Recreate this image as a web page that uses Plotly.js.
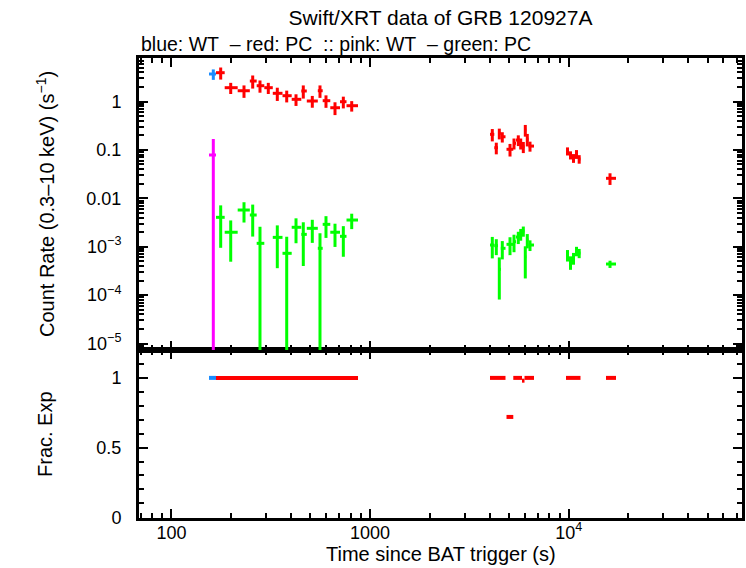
<!DOCTYPE html>
<html>
<head>
<meta charset="utf-8">
<script src="https://cdn.plot.ly/plotly-3.0.1.min.js"></script>
<style>html,body{margin:0;padding:0;background:#fff;}#chart{width:746px;height:568px;}</style>
</head>
<body>
<div id="chart"></div>
<script>
// ---------- DATA ----------
// WT mode (blue)
const wtStart = [154.5];
const wtStop  = [167.5];
const wtTime  = [162.4];
const wtRate  = [3.70];
const wtErr   = [0.9];
const wtFrac  = [1.0];

// WT mode (pink, second series)
const wt2Time = [162.4];
const wt2Start = [154.5];
const wt2Stop = [167.5];
const wt2Rate = [0.0785];
const wt2Err  = [0.09];

// PC mode (red)
const pcStart = [167.5, 185.3, 215.4, 248.0, 268.5, 293.3, 323.6, 362.2, 402.9, 450.4, 480.0, 545.4, 577.2, 630.3, 705.4, 760.7,
                 4016, 4221, 4406, 4551, 4862, 5260, 5428, 5654, 5820, 5991, 6117, 6275,
                 9692, 10035, 10390, 10757, 11137, 15410];
const pcStop  = [185.3, 215.4, 248.0, 268.5, 293.3, 323.6, 362.2, 402.9, 450.4, 480.0, 545.4, 577.2, 630.3, 705.4, 760.7, 869.3,
                 4221, 4406, 4551, 4806, 5260, 5428, 5654, 5820, 5991, 6117, 6275, 6689,
                 10035, 10390, 10757, 11137, 11465, 17307];
const pcTime  = [176.9, 198.7, 231.8, 256.4, 279.0, 307.2, 341.0, 380.3, 423.6, 460.9, 511.7, 559.4, 599.7, 665.7, 733.2, 808.0,
                 4124, 4320, 4473, 4631, 5064, 5304, 5575, 5732, 5908, 6046, 6188, 6385,
                 9863, 10212, 10573, 10946, 11294, 16144];
const pcRate  = [3.94, 1.93, 1.67, 2.65, 2.12, 1.93, 1.477, 1.318, 1.11, 1.65, 1.024, 1.67, 1.04, 0.744, 0.99, 0.819,
                 0.210, 0.111, 0.220, 0.187, 0.103, 0.137, 0.160, 0.137, 0.116, 0.258, 0.166, 0.120,
                 0.0947, 0.0785, 0.068, 0.0822, 0.0649, 0.0259];
const pcErr   = [1.1, 0.5, 0.48, 0.8, 0.6, 0.5, 0.45, 0.36, 0.3, 0.5, 0.28, 0.48, 0.3, 0.22, 0.27, 0.2,
                 0.06, 0.03, 0.055, 0.045, 0.03, 0.035, 0.04, 0.035, 0.03, 0.07, 0.048, 0.028,
                 0.018, 0.015, 0.014, 0.017, 0.013, 0.007];
const pcFrac  = [1, 1, 1, 1, 1, 1, 1, 1, 1, 1, 1, 1, 1, 1, 1, 1,
                 1, 1, 1, 1, 0.72, 1, 1, 1, 0.98, 1, 1, 1,
                 1, 1, 1, 1, 1, 1];

// PC mode (green, second series)
const pc2Start = [167.5, 185.3, 215.4, 248.0, 268.5, 323.6, 362.2, 402.9, 450.4, 480.0, 545.4, 577.2, 630.3, 705.4, 760.7,
                  4016, 4221, 4406, 4551, 4862, 5260, 5428, 5654, 5820, 5991, 6117, 6275,
                  9692, 10035, 10390, 10757, 11137, 15410];
const pc2Stop  = [185.3, 215.4, 248.0, 268.5, 293.3, 362.2, 402.9, 450.4, 480.0, 545.4, 577.2, 630.3, 705.4, 760.7, 869.3,
                  4221, 4406, 4551, 4806, 5260, 5428, 5654, 5820, 5991, 6117, 6275, 6689,
                  10035, 10390, 10757, 11137, 11465, 17307];
const pc2Time  = [176.9, 198.7, 231.8, 256.4, 279.0, 341.0, 380.3, 423.6, 460.9, 511.7, 559.4, 599.7, 665.7, 733.2, 808.0,
                  4124, 4320, 4473, 4631, 5064, 5304, 5575, 5732, 5908, 6046, 6188, 6385,
                  9863, 10212, 10573, 10946, 11294, 16144];
const pc2Rate  = [4.05e-3, 1.99e-3, 5.73e-3, 4.52e-3, 1.175e-3, 1.56e-3, 7.31e-4, 2.52e-3, 1.80e-3, 2.40e-3, 9.27e-4, 2.90e-3, 1.99e-3, 1.64e-3, 3.56e-3,
                  1.084e-3, 1.05e-3, 3.41e-4, 9.27e-4, 1.12e-3, 1.27e-3, 1.585e-3, 1.83e-3, 2.11e-3, 6.21e-4, 1.375e-3, 1.084e-3,
                  6.74e-4, 4.83e-4, 5.85e-4, 8.15e-4, 7.4e-4, 4.39e-4];
const pc2Err   = [3.1e-3, 1.5e-3, 2.57e-3, 2.9e-3, 1.41e-3, 1.2e-3, 8.8e-4, 1.34e-3, 1.4e-3, 1.2e-3, 9.6e-4, 1.38e-3, 1.0e-3, 1.02e-3, 1.25e-3,
                  5.1e-4, 3.8e-4, 2.6e-4, 3.8e-4, 4.5e-4, 5e-4, 4.5e-4, 5e-4, 5e-4, 4e-4, 4.5e-4, 2.7e-4,
                  1.8e-4, 1.5e-4, 1.6e-4, 1.8e-4, 1.6e-4, 7.5e-5];

// Axis ticks and texts
const xTickVals = [100, 1000, 10000];
const xTickText = ['100', '1000', '10<sup>4</sup>'];
const yTickVals = [1e-5, 1e-4, 1e-3, 0.01, 0.1, 1];
const yTickText = ['10<sup>−5</sup>', '10<sup>−4</sup>', '10<sup>−3</sup>', '0.01', '0.1', '1'];
const fTickVals = [0, 0.5, 1];
const fTickText = ['0', '0.5', '1'];
const titleText = 'Swift/XRT data of GRB 120927A';
const subtitleText = 'blue: WT\u00a0\u00a0– red: PC\u00a0\u00a0:: pink: WT\u00a0\u00a0– green: PC';
const xTitle = 'Time since BAT trigger (s)';
const yTitle = 'Count Rate (0.3–10 keV) (s<sup>−1</sup>)';
const fTitle = 'Frac. Exp';

// ---------- HELPERS ----------
const minus = (c, s) => c.map((v, i) => v - s[i]);
const plus  = (c, e) => e.map((v, i) => v - c[i]);
function logMinor(lo, hi) {
  const out = [];
  for (let k = lo; k <= hi; k++) for (let m = 2; m <= 9; m++) out.push(m * Math.pow(10, k));
  return out;
}
// bins [start, stop] at their value, contiguous equal-valued bins merged into one run
function stepSegs(s, e, v) {
  const x = [], y = [];
  for (let i = 0; i < s.length; i++) {
    const joined = i > 0 && s[i] === e[i - 1] && v[i] === v[i - 1];
    if (joined) {
      x[x.length - 1] = e[i];
    } else {
      if (i > 0) { x.push(null); y.push(null); }
      x.push(s[i], e[i]);
      y.push(v[i], v[i]);
    }
  }
  return {x, y};
}

const BLUE = '#1a8cff', RED = '#ff0000', PINK = '#ff00ff', GREEN = '#00ff00';
const FONT = 'Liberation Sans, Arial, Helvetica, sans-serif';

function errTrace(x, y, s, e, ey, color, name) {
  return {
    type: 'scatter', mode: 'markers', name: name, x: x, y: y,
    xaxis: 'x2', yaxis: 'y2',
    marker: {size: 4, color: color, opacity: 0},
    error_x: {type: 'data', symmetric: false, array: plus(x, e), arrayminus: minus(x, s),
              color: color, thickness: 3, width: 0},
    error_y: {type: 'data', array: ey, color: color, thickness: 3, width: 0},
    hoverinfo: 'x+y', showlegend: false
  };
}
function fracTrace(s, e, v, color, name) {
  const seg = stepSegs(s, e, v);
  return {
    type: 'scatter', mode: 'lines', name: name, x: seg.x, y: seg.y,
    xaxis: 'x', yaxis: 'y', connectgaps: false,
    line: {color: color, width: 4}, hoverinfo: 'x+y', showlegend: false
  };
}

const traces = [
  errTrace(wtTime, wtRate, wtStart, wtStop, wtErr, BLUE, 'WT'),
  errTrace(pcTime, pcRate, pcStart, pcStop, pcErr, RED, 'PC'),
  errTrace(wt2Time, wt2Rate, wt2Start, wt2Stop, wt2Err, PINK, 'WT (pink)'),
  errTrace(pc2Time, pc2Rate, pc2Start, pc2Stop, pc2Err, GREEN, 'PC (green)'),
  fracTrace(wtStart, wtStop, wtFrac, BLUE, 'WT frac'),
  fracTrace(pcStart, pcStop, pcFrac, RED, 'PC frac')
];

const axisStyle = {
  showline: true, linewidth: 3, linecolor: '#000', mirror: 'ticks',
  ticks: 'inside', ticklen: 9, tickwidth: 2, tickcolor: '#000',
  showgrid: false, zeroline: false,
  tickfont: {family: FONT, size: 18, color: '#000'}
};

const xRange = [1.8364, 4.8726];
const xMinor = {ticks: 'inside', ticklen: 5, tickwidth: 2, tickcolor: '#000', tickmode: 'array',
                tickvals: logMinor(1, 4), showgrid: false};

const layout = {
  width: 746, height: 568,
  margin: {l: 139, r: 4, t: 58, b: 50},
  paper_bgcolor: '#fff', plot_bgcolor: '#fff',
  showlegend: false,
  font: {family: FONT, color: '#000', size: 18},
  title: {text: titleText, font: {family: FONT, size: 21, color: '#000'},
          x: 0.5, xref: 'paper', xanchor: 'center', y: 1 - 18 / 568, yref: 'container', yanchor: 'middle'},
  xaxis: Object.assign({}, axisStyle, {
    type: 'log', range: xRange, domain: [0, 1], anchor: 'y',
    tickmode: 'array', tickvals: xTickVals, ticktext: xTickText, ticklabelstandoff: -4,
    minor: xMinor
  }),
  xaxis2: Object.assign({}, axisStyle, {
    type: 'log', range: xRange, domain: [0, 1], anchor: 'y2', matches: 'x',
    tickmode: 'array', tickvals: xTickVals, showticklabels: false,
    minor: xMinor
  }),
  yaxis: Object.assign({}, axisStyle, {
    range: [-0.005, 1.2], domain: [0, 0.3652], anchor: 'x',
    tickmode: 'array', tickvals: fTickVals, ticktext: fTickText, ticklabelstandoff: 11,
    minor: {ticks: 'inside', ticklen: 5, tickwidth: 2, tickcolor: '#000', tickmode: 'linear', tick0: 0, dtick: 0.1, showgrid: false}
  }),
  yaxis2: Object.assign({}, axisStyle, {
    type: 'log', range: [-5.134, 0.899], domain: [0.3652, 1], anchor: 'x2',
    tickmode: 'array', tickvals: yTickVals, ticktext: yTickText, ticklabelstandoff: 11,
    minor: {ticks: 'inside', ticklen: 5, tickwidth: 2, tickcolor: '#000', tickmode: 'array',
            tickvals: logMinor(-6, 0), showgrid: false}
  }),
  annotations: [
    {text: subtitleText, xref: 'paper', yref: 'paper',
     x: 0, y: (518 - 44) / 460, xanchor: 'left', yanchor: 'middle', showarrow: false,
     font: {family: FONT, size: 19.5, color: '#000'}},
    {text: xTitle, xref: 'paper', yref: 'paper',
     x: 0.5, y: (518 - 554) / 460, xanchor: 'center', yanchor: 'middle', showarrow: false,
     font: {family: FONT, size: 20, color: '#000'}},
    {text: yTitle, xref: 'paper', yref: 'paper', textangle: -90,
     x: (45 - 139) / 603, y: (518 - 204) / 460, xanchor: 'center', yanchor: 'middle', showarrow: false,
     font: {family: FONT, size: 20, color: '#000'}},
    {text: fTitle, xref: 'paper', yref: 'paper', textangle: -90,
     x: (45 - 139) / 603, y: (518 - 434) / 460, xanchor: 'center', yanchor: 'middle', showarrow: false,
     font: {family: FONT, size: 20, color: '#000'}}
  ]
};

Plotly.newPlot('chart', traces, layout, {displayModeBar: false, staticPlot: true});
</script>
</body>
</html>
